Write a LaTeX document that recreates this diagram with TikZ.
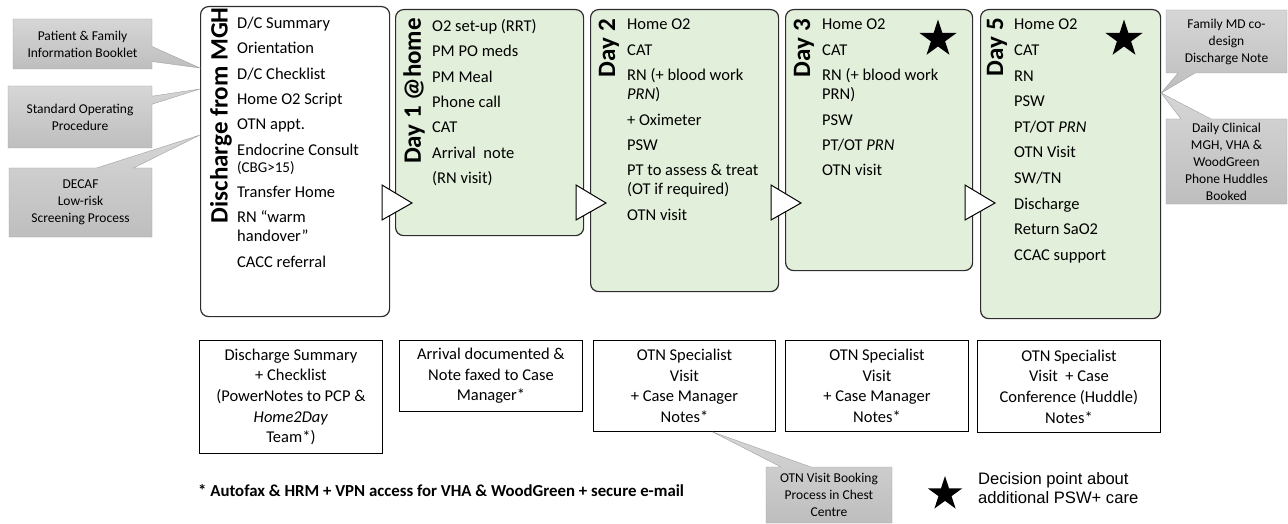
\documentclass[tikz,border=0pt]{standalone}
\usepackage{fontspec}
\setmainfont{Carlito}
\newfontfamily\legendfont{Liberation Sans}
\usetikzlibrary{shapes.geometric,shapes.callouts,calc}

\definecolor{daygreen}{RGB}{226,239,218}
\definecolor{boxline}{RGB}{45,45,45}
\definecolor{calltop}{RGB}{214,214,214}
\definecolor{callbot}{RGB}{190,190,190}
\definecolor{callline}{RGB}{160,160,160}

\begin{document}
\begin{tikzpicture}[x=1pt,y=-1pt,
    stagebox/.style={draw=boxline, line width=1.2pt, rounded corners=8pt, anchor=north west, inner sep=0pt, fill=white},
    daybox/.style={stagebox, fill=daygreen},
    stagetitle/.style={rotate=90, anchor=east, inner sep=0pt, font=\fontsize{25}{28}\selectfont\bfseries},
    itemlist/.style={anchor=north west, inner sep=0pt, align=left, font=\fontsize{16.5}{19}\selectfont},
    notebox/.style={draw, line width=0.9pt, anchor=north west, inner sep=0pt, minimum width=183, align=center, font=\fontsize{16.5}{20.7}\selectfont},
    greycall/.style={rectangle callout, draw=callline, top color=calltop, bottom color=callbot, inner sep=0pt, align=center, font=\fontsize{13.5}{17}\selectfont},
    decstar/.style={star, star points=5, star point ratio=2.618, fill=black, inner sep=0pt},
    notch/.style={draw=black, fill=white, line width=1pt, line join=miter}]
    \useasboundingbox (0,0) rectangle (1288,524);

    %Shape: Rounded Rectangle
    \node[stagebox, minimum width=189, minimum height=310] (mgh) at (200,6) {};
    \node[daybox, minimum width=188, minimum height=226] (dayone) at (395,9) {};
    \node[daybox, minimum width=188, minimum height=282] (daytwo) at (590,9) {};
    \node[daybox, minimum width=187, minimum height=261] (daythree) at (785,9) {};
    \node[daybox, minimum width=180, minimum height=309] (dayfive) at (980,9) {};

    %Shape: Triangle
    \foreach \bx in {389,583,778,972}
        \draw[notch] (\bx-7,185) -- (\bx+23,203) -- (\bx-7,220) -- cycle;

    % Text Node
    \node[stagetitle] (mghtitle) at (221,7) {Discharge from MGH};
    \node[stagetitle] (dayonetitle) at (414,18) {Day 1 @home};
    \node[stagetitle] (daytwotitle) at (609,19) {Day 2};
    \node[stagetitle] (daythreetitle) at (804,19) {Day 3};
    \node[stagetitle] (dayfivetitle) at (997,18) {Day 5};

    % Text Node
    \node[itemlist] (mghitems) at (237,17) {D/C Summary\\[6.3pt]Orientation\\[6.3pt]D/C Checklist\\[6.3pt]Home O2 Script\\[6.3pt]OTN appt.\\[6.3pt]Endocrine Consult\\[-2pt]{\fontsize{15}{17}\selectfont (CBG>15)}\\[6.3pt]Transfer Home\\[6.3pt]RN “warm\\handover”\\[6.3pt]CACC referral};
    % Text Node
    \node[itemlist] (dayoneitems) at (432,19) {O2 set-up (RRT)\\[6.4pt]PM PO meds\\[6.4pt]PM Meal\\[6.4pt]Phone call\\[6.4pt]CAT\\[6.4pt]Arrival\ \ note\\[6.4pt](RN visit)};
    % Text Node
    \node[itemlist] (daytwoitems) at (627,19) {Home O2\\[6.4pt]CAT\\[6.4pt]RN (+ blood work\\\textit{PRN})\\[6.4pt]+ Oximeter\\[6.4pt]PSW\\[6.4pt]PT to assess \& treat\\(OT if required)\\[6.4pt]OTN visit};
    % Text Node
    \node[itemlist] (daythreeitems) at (822,19) {Home O2\\[6.4pt]CAT\\[6.4pt]RN (+ blood work\\PRN)\\[6.4pt]PSW\\[6.4pt]PT/OT \textit{PRN}\\[6.4pt]OTN visit};
    % Text Node
    \node[itemlist] (dayfiveitems) at (1014,19) {Home O2\\[6.6pt]CAT\\[6.6pt]RN\\[6.6pt]PSW\\[6.6pt]PT/OT \textit{PRN}\\[6.6pt]OTN Visit\\[6.6pt]SW/TN\\[6.6pt]Discharge\\[6.6pt]Return SaO2\\[6.6pt]CCAC support};

    %Shape: Star
    \node[decstar, minimum size=39] (starthree) at (938,39) {};
    \node[decstar, minimum size=39] (starfive) at (1124,39) {};

    %Shape: Rectangle
    \node[notebox, minimum height=113] (noteone) at (199,340) {Discharge Summary\\+ Checklist\\(PowerNotes to PCP \&\\\textit{Home2Day}\\Team*)};
    \node[notebox, minimum height=71] (notetwo) at (399,340) {Arrival documented \&\\Note faxed to Case\\Manager*};
    \node[notebox, minimum height=91, minimum width=182] (notethree) at (593,340) {OTN Specialist\\Visit\\+ Case Manager\\Notes*};
    \node[notebox, minimum height=91] (notefour) at (785,340) {OTN Specialist\\Visit\\+ Case Manager\\Notes*};
    \node[notebox, minimum height=92] (notefive) at (977,340) {OTN Specialist\\Visit\ \ + Case\\Conference (Huddle)\\Notes*};

    %Callouts
    \coordinate (bookletpt) at ($(mgh.north west)+(0,62)$);
    \coordinate (sopt) at ($(mgh.north west)+(0,83)$);
    \coordinate (decafpt) at ($(mgh.north west)+(0,129)$);
    \coordinate (dayfivept) at ($(dayfive.north east)+(0,84)$);
    \coordinate (bookingpt) at ($(notethree.south)+(28,0)$);

    \node[greycall, callout absolute pointer={(bookletpt)}, callout pointer width=15, minimum width=139, minimum height=50] (booklet) at (82.5,44) {Patient \& Family\\Information Booklet};
    \node[greycall, callout absolute pointer={(sopt)}, callout pointer width=8, minimum width=144, minimum height=62] (sop) at (80,117) {Standard Operating\\Procedure};
    \node[greycall, callout absolute pointer={(decafpt)}, callout pointer width=37, minimum width=143, minimum height=69] (decaf) at (80.5,202.5) {DECAF\\Low-risk\\Screening Process};
    \node[greycall, callout absolute pointer={(dayfivept)}, callout pointer width=17, minimum width=121, minimum height=63] (famdoc) at (1226.5,41.5) {Family MD co-\\design\\Discharge Note};
    \node[greycall, callout absolute pointer={(dayfivept)}, callout pointer width=30, minimum width=121, minimum height=85] (huddle) at (1226.5,161.5) {Daily Clinical\\MGH, VHA \&\\WoodGreen\\Phone Huddles\\Booked};
    \node[greycall, callout absolute pointer={(bookingpt)}, callout pointer width=30, minimum width=126, minimum height=56] (booking) at (829,495) {OTN Visit Booking\\Process in Chest\\Centre};

    % Text Node
    \node[anchor=west, inner sep=0pt, font=\fontsize{16.8}{20}\selectfont\bfseries] (footnote) at (198,491) {* Autofax \& HRM + VPN access for VHA \& WoodGreen + secure e-mail};

    % Legend
    \node[decstar, minimum size=36] (legendstar) at (945,494) {};
    \node[anchor=west, inner sep=0pt, align=left, font=\legendfont\fontsize{16.6}{19}\selectfont] (legendtext) at (978,488) {Decision point about\\additional PSW+ care};

\end{tikzpicture}
\end{document}
